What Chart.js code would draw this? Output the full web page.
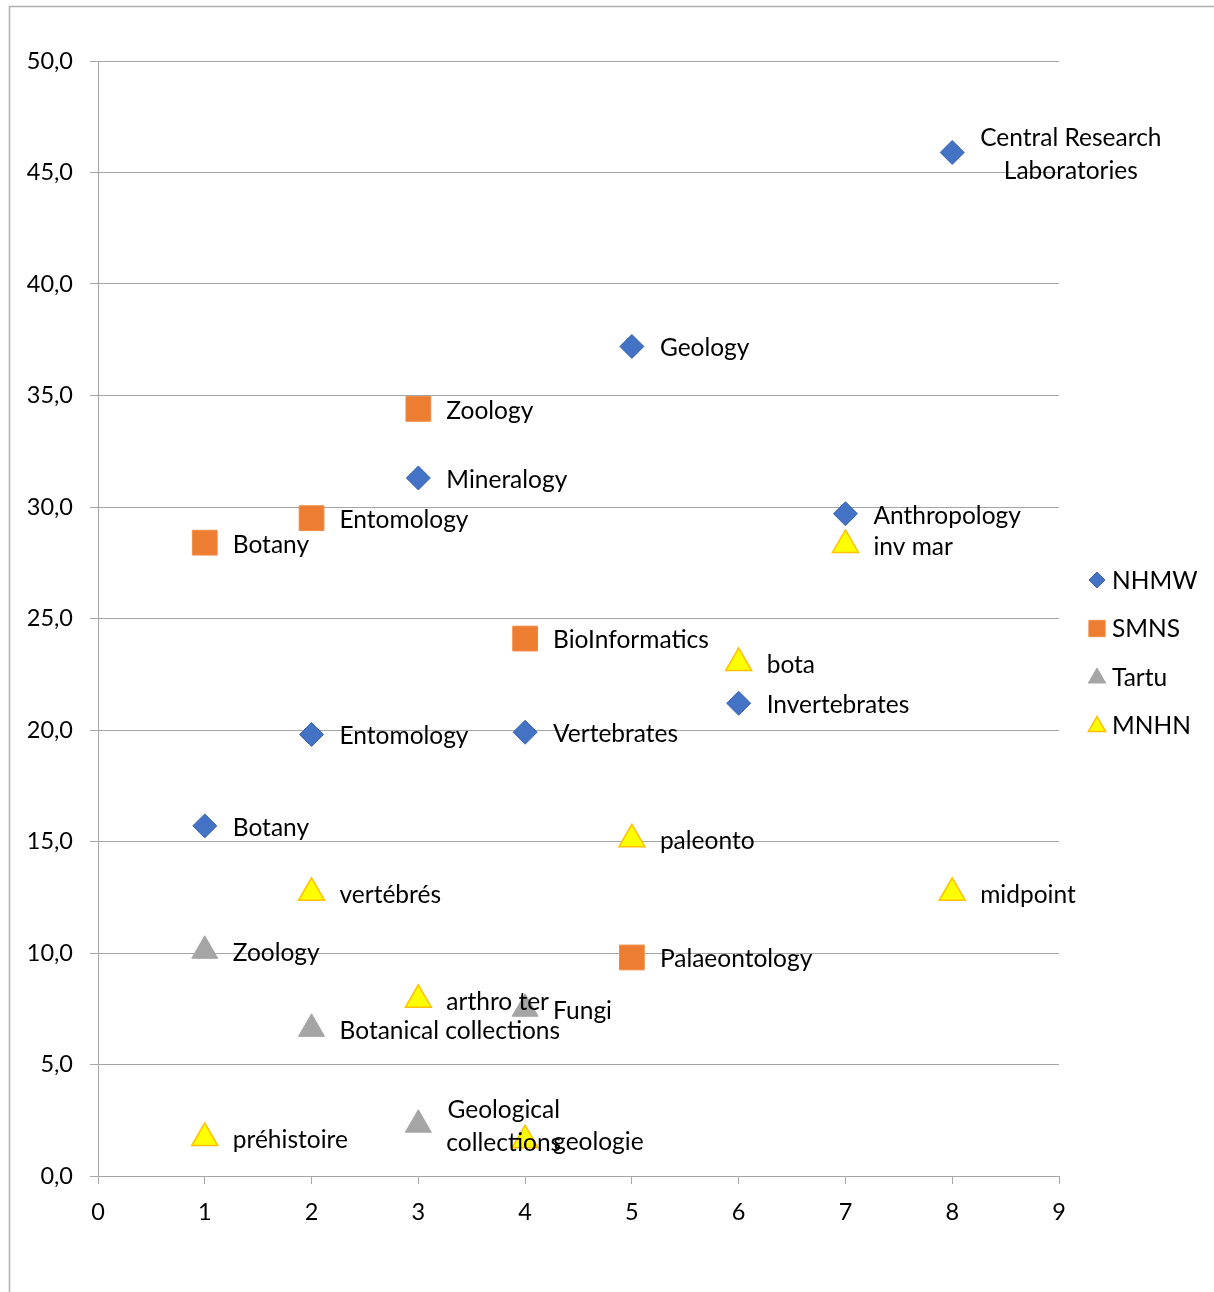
<!DOCTYPE html>
<html>
<head>
<meta charset="utf-8">
<script src="https://cdn.jsdelivr.net/npm/chart.js@4.4.1/dist/chart.umd.min.js"></script>
<style>
  html, body { margin: 0; padding: 0; background: #ffffff; }
  #wrap { position: relative; width: 1214px; height: 1292px; }
</style>
</head>
<body>
<div id="wrap"><canvas id="chart" width="1214" height="1292"></canvas></div>
<script>
// Department scores per museum: x = department index, y = value
const nhmwX = [1, 2, 3, 4, 5, 6, 7, 8];
const nhmwY = [15.7, 19.8, 31.3, 19.9, 37.2, 21.2, 29.7, 45.9];
const nhmwLabels = ["Botany", "Entomology", "Mineralogy", "Vertebrates", "Geology", "Invertebrates", "Anthropology", "Central Research\nLaboratories"];

const smnsX = [1, 2, 3, 4, 5];
const smnsY = [28.4, 29.5, 34.4, 24.1, 9.8];
const smnsLabels = ["Botany", "Entomology", "Zoology", "BioInformatics", "Palaeontology"];

const tartuX = [1, 2, 3, 4];
const tartuY = [10.1, 6.6, 2.3, 7.5];
const tartuLabels = ["Zoology", "Botanical collections", "Geological\ncollections", "Fungi"];

const mnhnX = [1, 2, 3, 4, 5, 6, 7, 8];
const mnhnY = [1.7, 12.7, 7.9, 1.6, 15.1, 23.0, 28.3, 12.7];
const mnhnLabels = ["préhistoire", "vertébrés", "arthro ter", "geologie", "paleonto", "bota", "inv mar", "midpoint"];

const seriesNames = ["NHMW", "SMNS", "Tartu", "MNHN"];
const xTicks = [0, 1, 2, 3, 4, 5, 6, 7, 8, 9];
const yTicks = [0, 5, 10, 15, 20, 25, 30, 35, 40, 45, 50];

const FONT = "Lato";
const TEXT = "#000000";
const GRID = "#a6a6a6";

function pts(xs, ys) { return xs.map((x, i) => ({ x: x, y: ys[i] })); }

const datasets = [
  { label: seriesNames[0], data: pts(nhmwX, nhmwY), labels: nhmwLabels,
    pointStyle: "rectRot", pointRadius: 12, backgroundColor: "#4472c4", borderColor: "#3a64b0", borderWidth: 1,
    legendRadius: 8 },
  { label: seriesNames[1], data: pts(smnsX, smnsY), labels: smnsLabels,
    pointStyle: "rect", pointRadius: 17.5, backgroundColor: "#ed7d31", borderColor: "#f08a45", borderWidth: 1,
    legendRadius: 11.5 },
  { label: seriesNames[2], data: pts(tartuX, tartuY), labels: tartuLabels,
    pointStyle: "triangle", pointRadius: 15, backgroundColor: "#a5a5a5", borderColor: "#a5a5a5", borderWidth: 1,
    legendRadius: 10 },
  { label: seriesNames[3], data: pts(mnhnX, mnhnY), labels: mnhnLabels,
    pointStyle: "triangle", pointRadius: 15, backgroundColor: "#ffff00", borderColor: "#ffc000", borderWidth: 1.5,
    legendRadius: 10 }
];
datasets.forEach(d => { d.pointHoverRadius = d.pointRadius; d.showLine = false; });

// Light frame around the chart
const framePlugin = {
  id: "frame",
  beforeDraw(chart) {
    const ctx = chart.ctx;
    ctx.save();
    ctx.strokeStyle = "#b0b0b0";
    ctx.lineWidth = 1.5;
    ctx.beginPath();
    ctx.moveTo(9.5, 1292);
    ctx.lineTo(9.5, 6.5);
    ctx.lineTo(1214, 6.5);
    ctx.stroke();
    ctx.restore();
  }
};

// Text label to the right of every point
const pointLabelPlugin = {
  id: "pointLabels",
  afterDatasetsDraw(chart) {
    const ctx = chart.ctx;
    ctx.save();
    ctx.font = "24.5px " + FONT;
    ctx.fillStyle = TEXT;
    ctx.textBaseline = "middle";
    chart.data.datasets.forEach((ds, di) => {
      const meta = chart.getDatasetMeta(di);
      meta.data.forEach((el, i) => {
        const lines = String(ds.labels[i]).split("\n");
        const lineH = 33;
        const left = el.x + 28;
        const maxW = Math.max(...lines.map(l => ctx.measureText(l).width));
        const top = el.y - (lines.length - 1) * lineH / 2 + 2;
        lines.forEach((line, k) => {
          if (lines.length > 1) {
            ctx.textAlign = "center";
            ctx.fillText(line, left + maxW / 2, top + k * lineH);
          } else {
            ctx.textAlign = "left";
            ctx.fillText(line, left, top);
          }
        });
      });
    });
    ctx.restore();
  }
};

// Legend on the right, drawn with each dataset's own marker style
const sideLegendPlugin = {
  id: "sideLegend",
  afterDraw(chart) {
    const ctx = chart.ctx;
    const x0 = 1097, y0 = 580, step = 48.5;
    ctx.save();
    ctx.font = "24.5px " + FONT;
    ctx.fillStyle = TEXT;
    ctx.textBaseline = "middle";
    ctx.textAlign = "left";
    chart.data.datasets.forEach((ds, i) => {
      const y = y0 + i * step;
      ctx.save();
      ctx.fillStyle = ds.backgroundColor;
      ctx.strokeStyle = ds.borderColor;
      ctx.lineWidth = ds.borderWidth;
      Chart.helpers.drawPoint(ctx, { pointStyle: ds.pointStyle, radius: ds.legendRadius, borderWidth: ds.borderWidth }, x0, y + (ds.pointStyle === "triangle" ? 1 : 0));
      ctx.restore();
      ctx.fillStyle = TEXT;
      ctx.fillText(ds.label, 1112, y + 1);
    });
    ctx.restore();
  }
};

new Chart(document.getElementById("chart"), {
  type: "scatter",
  data: { datasets: datasets },
  options: {
    responsive: false,
    animation: false,
    events: [],
    layout: { padding: { left: 0, top: 61, right: 155, bottom: 0 } },
    plugins: {
      legend: { display: false },
      tooltip: { enabled: false }
    },
    scales: {
      x: {
        type: "linear",
        min: xTicks[0],
        max: xTicks[xTicks.length - 1],
        afterBuildTicks(scale) { scale.ticks = xTicks.map(v => ({ value: v })); },
        afterFit(scale) { scale.height = 116; },
        grid: { drawOnChartArea: false, drawTicks: true, tickLength: 8, color: GRID, lineWidth: 1 },
        border: { display: true, color: GRID, width: 1 },
        ticks: { color: TEXT, font: { family: FONT, size: 23.5 }, padding: 14, callback: v => String(v) }
      },
      y: {
        type: "linear",
        min: yTicks[0],
        max: yTicks[yTicks.length - 1],
        afterBuildTicks(scale) { scale.ticks = yTicks.map(v => ({ value: v })); },
        afterFit(scale) { scale.width = 98; },
        grid: { drawOnChartArea: true, drawTicks: true, tickLength: 8, color: GRID, lineWidth: 1 },
        border: { display: true, color: GRID, width: 1 },
        ticks: { color: TEXT, font: { family: FONT, size: 23.5 }, padding: 17,
                 callback: v => v.toFixed(1).replace(".", ",") }
      }
    }
  },
  plugins: [framePlugin, pointLabelPlugin, sideLegendPlugin]
});
</script>
</body>
</html>
